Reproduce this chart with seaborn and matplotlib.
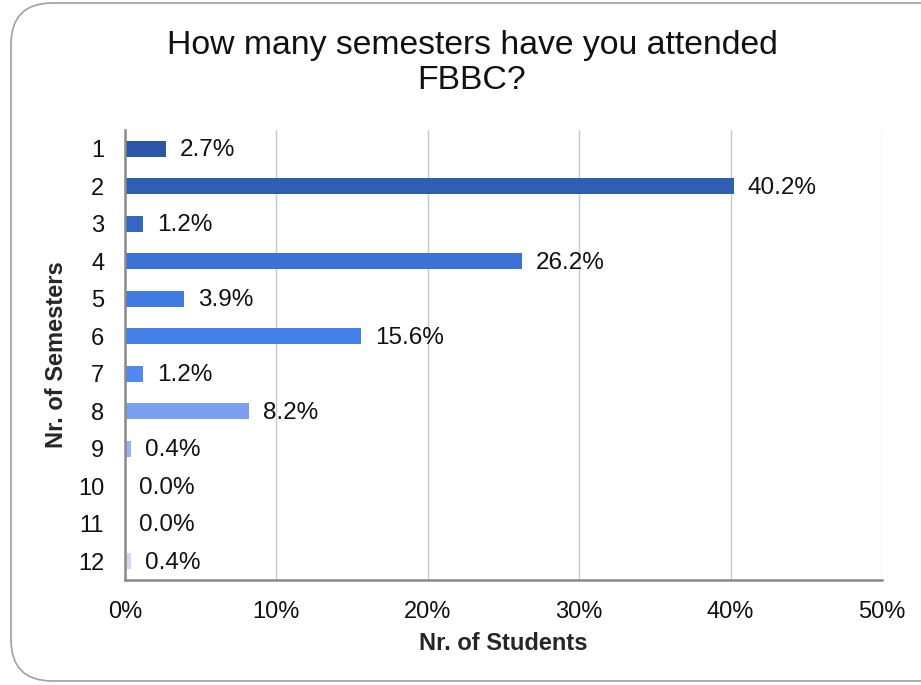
import matplotlib
matplotlib.use("Agg")
import matplotlib.pyplot as plt
import seaborn as sns
import pandas as pd
from matplotlib.patches import FancyBboxPatch
from matplotlib.ticker import FuncFormatter

semesters = ["1", "2", "3", "4", "5", "6", "7", "8", "9", "10", "11", "12"]
percent = [2.7, 40.2, 1.2, 26.2, 3.9, 15.6, 1.2, 8.2, 0.4, 0.0, 0.0, 0.4]
bar_colors = ["#2B55A5", "#2F5FB3", "#3566C4", "#3A72D6", "#3E7AE0", "#4280E8",
              "#5288F0", "#7BA0F2", "#96B2F2", "#AFC3F4", "#C0CFF5", "#D0DAF6"]
x_ticks = [0, 10, 20, 30, 40, 50]

sns.set_style("white")
plt.rcParams['font.family'] = ['Liberation Sans', 'DejaVu Sans']

df = pd.DataFrame({"Semesters": semesters, "Percent": percent})

fig = plt.figure(figsize=(9.21, 6.85), dpi=100)
# rounded frame
frame = FancyBboxPatch((11 / 921, 4 / 685), 960 / 921, 678 / 685,
                       boxstyle="round,pad=0,rounding_size=0.045",
                       transform=fig.transFigure, facecolor="none",
                       edgecolor="#A0A0A0", linewidth=1.2, clip_on=False,
                       mutation_aspect=921 / 685, zorder=-5)
fig.patches.append(frame)

ax = fig.add_axes([125 / 921, 1 - 580 / 685, 757 / 921, 450 / 685])
ax.set_facecolor("none")
sns.barplot(data=df, x="Percent", y="Semesters", hue="Semesters",
            palette=bar_colors, orient="h", width=0.42, legend=False, ax=ax,
            saturation=1, linewidth=0)

ax.set_xlim(0, 50)
ax.set_xticks(x_ticks)
ax.xaxis.set_major_formatter(FuncFormatter(lambda v, p: f"{v:.0f}%"))
ax.grid(axis="x", color="#C8C8C8", linewidth=1)
ax.set_axisbelow(True)
for s in ["top", "right"]:
    ax.spines[s].set_visible(False)
ax.spines["left"].set_color("#8A8A8A")
ax.spines["left"].set_linewidth(1.8)
ax.spines["bottom"].set_color("#8A8A8A")
ax.spines["bottom"].set_linewidth(1.8)
ax.tick_params(axis="both", length=0, labelsize=17, colors="#111111")
ax.tick_params(axis="y", pad=15)
ax.tick_params(axis="x", pad=15)

for i, v in enumerate(percent):
    ax.annotate(f"{v:.1f}%", xy=(v, i), xytext=(10, -1.2), textcoords="offset points",
                va="center", ha="left", fontsize=17.5, color="#111111")

ax.set_xlabel("Nr. of Students", fontsize=17, fontweight="bold")
ax.set_ylabel("Nr. of Semesters", fontsize=17, fontweight="bold")
ax.xaxis.set_label_coords(0.5, (580 - 632) / 450)
ax.yaxis.set_label_coords((68 - 125) / 757, 0.5)

fig.text(472 / 921, 1 - 63 / 685, "How many semesters have you attended\nFBBC?",
         ha="center", va="center", fontsize=24.3, linespacing=1.2, color="#111111")

fig.savefig("out.png", dpi=100)
